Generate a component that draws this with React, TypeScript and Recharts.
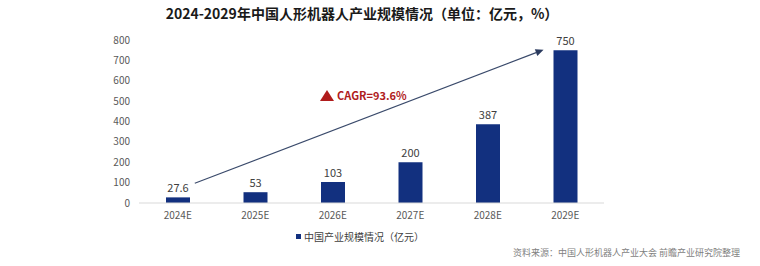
import React from 'react';
import {
  BarChart,
  Bar,
  XAxis,
  YAxis,
  LabelList,
  ReferenceLine,
} from 'recharts';

const years = ['2024E', '2025E', '2026E', '2027E', '2028E', '2029E'];
const marketSize = [27.6, 53, 103, 200, 387, 750];
const yTicks = [0, 100, 200, 300, 400, 500, 600, 700, 800];
// trend arrow: from just right of the first band to just left of the last
const trendFrom = { x: '2024E', y: 97 };
const trendTo = { x: '2029E', y: 752 };
const trendShift = [0.22, -0.28]; // fraction of a band step

const data = years.map((year, i) => ({ year, value: marketSize[i] }));

const FONT = '"Noto Sans CJK SC", "Noto Sans", sans-serif';
const BAR_COLOR = '#12307f';

const ArrowLine = (props: any) => {
  const { x1, y1, x2, y2 } = props;
  if ([x1, y1, x2, y2].some((v) => typeof v !== 'number')) return null;
  const step = (x2 - x1) / (years.length - 1);
  const sx = x1 + trendShift[0] * step;
  const ex = x2 + trendShift[1] * step;
  const ang = Math.atan2(y2 - y1, ex - sx);
  const len = 8;
  const w = 3.5;
  const bx = ex - len * Math.cos(ang);
  const by = y2 - len * Math.sin(ang);
  const px = -Math.sin(ang) * w;
  const py = Math.cos(ang) * w;
  return (
    <g>
      <line x1={sx} y1={y1} x2={bx} y2={by} stroke="#3a4a6b" strokeWidth={1.2} />
      <polygon
        points={`${ex},${y2} ${bx + px},${by + py} ${bx - px},${by - py}`}
        fill="#2a3a5e"
      />
    </g>
  );
};

const App: React.FC = () => {
  return (
    <div
      style={{
        position: 'absolute',
        left: 0,
        top: 0,
        width: 760,
        height: 266,
        background: '#fff',
        fontFamily: FONT,
      }}
    >
      <div
        style={{
          position: 'absolute',
          left: 0,
          width: 724,
          top: 3,
          textAlign: 'center',
          fontSize: 14,
          fontWeight: 700,
          color: '#1a1a1a',
        }}
      >
        2024-2029年中国人形机器人产业规模情况（单位：亿元，%）
      </div>

      <BarChart
        width={760}
        height={266}
        data={data}
        margin={{ top: 40, right: 156, left: 99, bottom: 43 }}
        style={{ position: 'absolute', left: 0, top: 0 }}
      >
        <XAxis
          dataKey="year"
          axisLine={{ stroke: '#d9d9d9' }}
          tickLine={false}
          tick={{ fill: '#595959', fontSize: 10, fontFamily: FONT }}
          tickMargin={3}
          height={20}
        />
        <YAxis
          domain={[0, 800]}
          ticks={yTicks}
          axisLine={false}
          tickLine={false}
          width={40}
          tickMargin={3}
          tick={{ fill: '#595959', fontSize: 10, fontFamily: FONT }}
        />
        <Bar dataKey="value" fill={BAR_COLOR} barSize={24} isAnimationActive={false}>
          <LabelList
            dataKey="value"
            position="top"
            offset={5}
            style={{ fill: '#404040', fontSize: 11, fontFamily: FONT }}
          />
        </Bar>
        <ReferenceLine
          segment={[trendFrom, trendTo]}
          ifOverflow="visible"
          shape={ArrowLine}
        />
      </BarChart>

      <div
        style={{
          position: 'absolute',
          left: 320,
          top: 87,
          fontSize: 11,
          fontWeight: 700,
          color: '#b01c1c',
          display: 'flex',
          alignItems: 'center',
          whiteSpace: 'nowrap',
        }}
      >
        <span
          style={{
            display: 'inline-block',
            width: 0,
            height: 0,
            borderLeft: '7px solid transparent',
            borderRight: '7px solid transparent',
            borderBottom: '11px solid #b01c1c',
            marginRight: 3,
          }}
        />
        CAGR=93.6%
      </div>

      <div
        style={{
          position: 'absolute',
          left: 296,
          top: 229,
          fontSize: 10,
          color: '#404040',
          display: 'flex',
          alignItems: 'center',
          whiteSpace: 'nowrap',
        }}
      >
        <span
          style={{
            display: 'inline-block',
            width: 5,
            height: 5,
            background: BAR_COLOR,
            marginRight: 3,
          }}
        />
        中国产业规模情况（亿元）
      </div>

      <div
        style={{
          position: 'absolute',
          right: 20,
          top: 246,
          fontSize: 9,
          color: '#7f7f7f',
          whiteSpace: 'nowrap',
        }}
      >
        资料来源：中国人形机器人产业大会 前瞻产业研究院整理
      </div>
    </div>
  );
};

export default App;
